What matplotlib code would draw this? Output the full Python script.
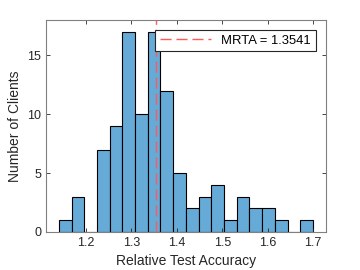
import numpy as np
import matplotlib
matplotlib.use("Agg")
import matplotlib.pyplot as plt

plt.rcParams['font.family'] = ['Liberation Sans', 'DejaVu Sans']

counts = [1, 3, 0, 7, 9, 17, 10, 17, 12, 5, 2, 3, 4, 1, 3, 2, 2, 1, 0, 1]
first_edge = 1.14
bin_width = 0.028
mrta = 1.3541

edges = first_edge + bin_width * np.arange(len(counts) + 1)

fig = plt.figure(figsize=(3.6, 2.7), dpi=100)
ax = fig.add_axes([0.128, 0.141, 0.778, 0.785])

ax.bar(edges[:-1], counts, width=bin_width, align='edge',
       color='#66aad7', edgecolor='black', linewidth=0.8)
ax.axvline(mrta, color='#ff5a5a', linestyle=(0, (8, 3.5)), linewidth=1.0,
           label=f'MRTA = {mrta:.4f}')

ax.set_xlim(1.112, 1.729)
ax.set_ylim(0, 18)
ax.set_xticks([1.2, 1.3, 1.4, 1.5, 1.6, 1.7])
ax.set_yticks([0, 5, 10, 15])
ax.tick_params(direction='in', top=True, right=True, length=3, width=0.6,
               labelsize=9, colors='#262626', labelcolor='#262626')
for s in ax.spines.values():
    s.set_color('#808080')
    s.set_linewidth(0.8)

ax.set_xlabel('Relative Test Accuracy', fontsize=10, color='#262626')
ax.set_ylabel('Number of Clients', fontsize=10, color='#262626')

leg = ax.legend(loc='upper right', bbox_to_anchor=(0.962, 0.953), fontsize=9.4,
                fancybox=False, framealpha=1, edgecolor='#262626',
                handlelength=3.9, borderpad=0.35, borderaxespad=0)
leg.get_frame().set_linewidth(0.8)

fig.savefig('out.png', dpi=100)
